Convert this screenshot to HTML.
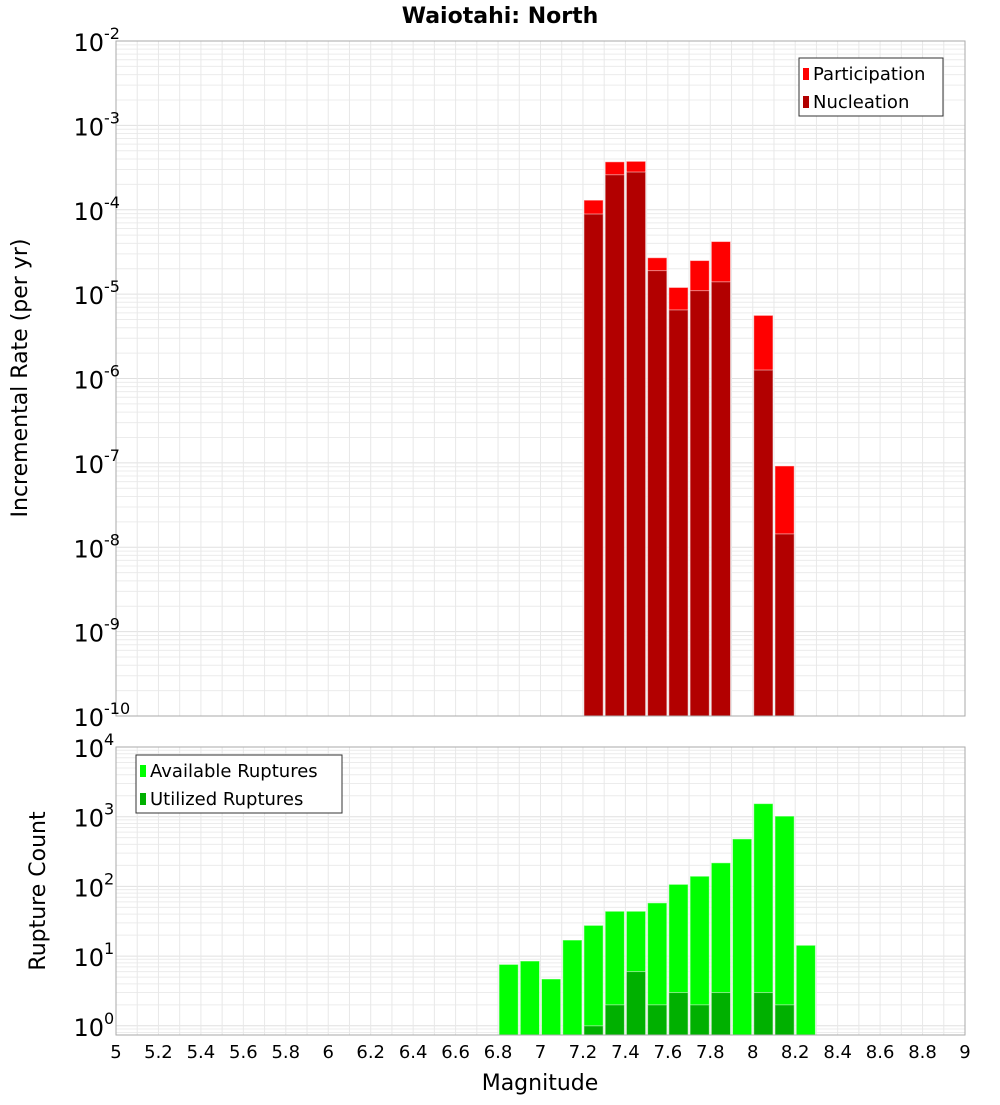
<!DOCTYPE html>
<html><head><meta charset="utf-8"><style>
body{margin:0;background:#fff;font-family:"Liberation Sans","DejaVu Sans",sans-serif}
</style></head><body>
<svg id="c" width="1000" height="1100" xmlns="http://www.w3.org/2000/svg" font-family="DejaVu Sans, Liberation Sans, sans-serif">
<text x="500" y="23" text-anchor="middle" font-size="22" font-weight="bold">Waiotahi: North</text>
<g id="top"></g><g id="bot"></g>
<text transform="translate(27,378) rotate(-90)" text-anchor="middle" font-size="22">Incremental Rate (per yr)</text>
<text transform="translate(45,891) rotate(-90)" text-anchor="middle" font-size="22">Rupture Count</text>
<text x="540" y="1090" text-anchor="middle" font-size="22">Magnitude</text>
</svg>
<script>
const mags=[7.25,7.35,7.45,7.55,7.65,7.75,7.85,8.05,8.15];
const participation=[1.3e-4,3.7e-4,3.75e-4,2.7e-5,1.2e-5,2.5e-5,4.2e-5,5.6e-6,9.2e-8];
const nucleation=[8.9e-5,2.6e-4,2.8e-4,1.9e-5,6.5e-6,1.1e-5,1.4e-5,1.26e-6,1.44e-8];
const countMags=[6.85,6.95,7.05,7.15,7.25,7.35,7.45,7.55,7.65,7.75,7.85,7.95,8.05,8.15,8.25];
const available=[7.6,8.5,4.7,17,27.6,44,44,58,107,140,218,480,1540,1020,14.3];
const utilMags=[7.25,7.35,7.45,7.55,7.65,7.75,7.85,8.05,8.15];
const utilized=[1,2,6,2,3,2,3,3,2];
const xTicks=[5,5.2,5.4,5.6,5.8,6,6.2,6.4,6.6,6.8,7,7.2,7.4,7.6,7.8,8,8.2,8.4,8.6,8.8,9];
const topExps=[-2,-3,-4,-5,-6,-7,-8,-9,-10];
const botExps=[4,3,2,1,0];

const NS="http://www.w3.org/2000/svg";
const X0=116,X1=965;
const xs=m=>X0+(m-5)/4*(X1-X0);
const yT=v=>41+(-2-Math.log10(v))*84.375;
const yB=v=>747+(4-Math.log10(v))*69.7;
function el(p,t,a){const e=document.createElementNS(NS,t);for(const k in a)e.setAttribute(k,a[k]);p.appendChild(e);return e;}
function panel(g,top,bot,yf,lo,hi,name){
  // grid
  for(let e=lo;e<hi;e++)for(let k=1;k<10;k++){const y=yf(k*Math.pow(10,e));if(y<top||y>bot)continue;
    const l=el(g,'line',{x1:X0,x2:X1,y1:y,y2:y,stroke:k==1?'#e0e0e0':'#ececec','stroke-width':1});
    
    }
  for(let m=5.1;m<9;m+=0.1){const x=xs(m);
    const l=el(g,'line',{x1:x,x2:x,y1:top,y2:bot,stroke:'#e8e8e8','stroke-width':1});
    
    }
}
function bar(g,m,v,yf,bot,fill,name){
  const x=xs(m-0.05),w=xs(m+0.05)-x,y=yf(v);
  const r=el(g,'rect',{x:x+1,y:y,width:w-2,height:bot-y,fill:fill,stroke:'#ffffff','stroke-opacity':0.5,'stroke-width':1});
  
  
}
function frame(g,top,bot,name){
  const r=el(g,'rect',{x:X0,y:top,width:X1-X0,height:bot-top,fill:'none',stroke:'#aaaaaa','stroke-width':1});
  
  
}
function ylab(g,exps,yf,name){
  exps.forEach(e=>{const y=yf(Math.pow(10,e));
    const t=el(g,'text',{x:104,y:y+10,'text-anchor':'end','font-size':24});
    
    
    t.textContent='10';
    const s=el(g,'text',{x:104,y:y-2,'font-size':16});
    
    
    s.textContent=String(e);});
}
function legend(g,x,y,w,items,name){
  const b=el(g,'rect',{x:x,y:y,width:w,height:58,fill:'#fff',stroke:'#333','stroke-width':1});
  
  
  items.forEach((it,i)=>{
    const s=el(g,'rect',{x:x+4,y:y+10+i*28,width:6,height:12,fill:it[1]});
    
    
    const t=el(g,'text',{x:x+14,y:y+22+i*28,'font-size':18});
    
    
    t.textContent=it[0];});
}
const gt=document.getElementById('top'),gb=document.getElementById('bot');
panel(gt,41,716,yT,-10,-2,'top');
mags.forEach((m,i)=>bar(gt,m,participation[i],yT,716,'#ff0000','participation-bar'));
mags.forEach((m,i)=>bar(gt,m,nucleation[i],yT,716,'#b20000','nucleation-bar'));
frame(gt,41,716,'top');ylab(gt,topExps,yT,'top');
legend(gt,799,58,144,[['Participation','#ff0000'],['Nucleation','#b20000']],'top');
panel(gb,747,1035,yB,-1,4,'bottom');
countMags.forEach((m,i)=>bar(gb,m,available[i],yB,1035,'#00ff00','available-bar'));
utilMags.forEach((m,i)=>bar(gb,m,utilized[i],yB,1035,'#00b000','utilized-bar'));
frame(gb,747,1035,'bottom');ylab(gb,botExps,yB,'bottom');
legend(gb,136,755,206,[['Available Ruptures','#00ff00'],['Utilized Ruptures','#00b000']],'bottom');
xTicks.forEach(m=>{const t=el(gb,'text',{x:xs(m),y:1058,'text-anchor':'middle','font-size':18});
  
  
  t.textContent=String(m);});
</script>
</body></html>
